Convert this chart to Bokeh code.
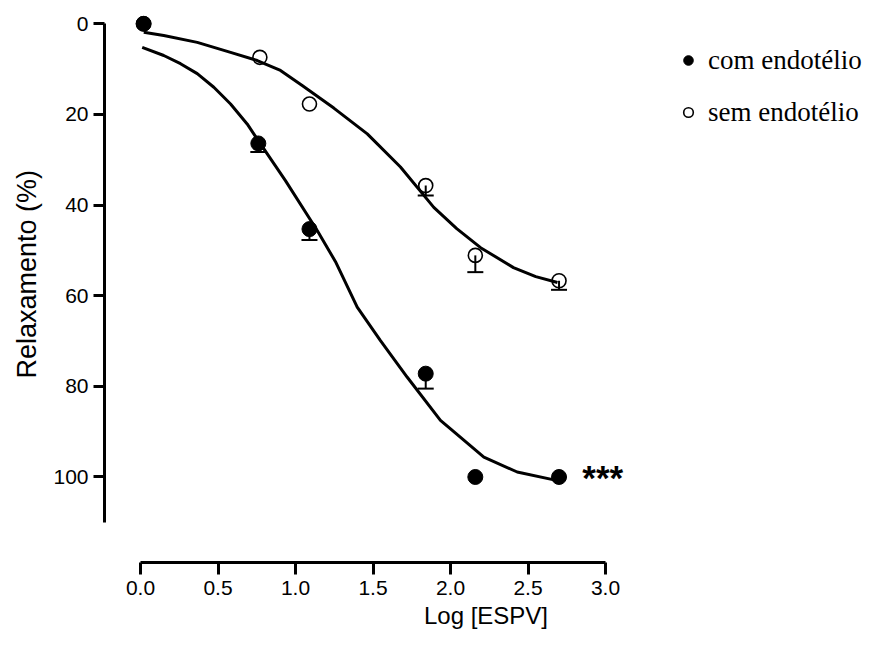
from bokeh.plotting import figure
from bokeh.models import (Range1d, FixedTicker, NumeralTickFormatter, Legend, LegendItem,
                          Whisker, TeeHead, ColumnDataSource, Title)
from bokeh.embed import file_html
from bokeh.resources import INLINE
from bokeh.core.properties import value

# ---- data (x as read against the drawn axis) ----
x_com = [0.02, 0.76, 1.09, 1.84, 2.16, 2.70]
y_com = [0.0, 26.4, 45.3, 77.2, 100.0, 100.0]
err_com = [0.0, 1.9, 2.4, 3.3, 0.0, 0.0]

x_sem = [0.02, 0.77, 1.09, 1.84, 2.16, 2.70]
y_sem = [0.0, 7.4, 17.7, 35.7, 51.1, 56.7]
err_sem = [0.0, 0.0, 0.0, 2.2, 3.7, 2.0]

# fitted curves, points
curve_com_x = [0.011, 0.150, 0.258, 0.366, 0.473, 0.581, 0.688, 0.774, 0.935, 1.140,
               1.258, 1.398, 1.548, 1.721, 1.935, 2.0, 2.215, 2.43, 2.69]
curve_com_y = [5.2, 7.0, 8.8, 11.0, 14.0, 17.7, 22.1, 26.5, 34.6, 45.6,
               52.5, 62.5, 69.9, 78.0, 87.5, 89.4, 95.6, 98.9, 100.8]

curve_sem_x = [0.021, 0.150, 0.366, 0.581, 0.753, 0.903, 1.043, 1.247, 1.463, 1.677,
               1.892, 2.04, 2.194, 2.406, 2.55, 2.69]
curve_sem_y = [1.85, 2.6, 4.1, 6.3, 8.1, 10.3, 13.6, 18.6, 24.3, 31.6,
               40.5, 45.2, 49.4, 53.8, 55.8, 57.1]

x_ticks = [0.0, 0.5, 1.0, 1.5, 2.0, 2.5, 3.0]
y_ticks = [0, 20, 40, 60, 80, 100]

series_labels = ["com endotélio", "sem endotélio"]
x_title = "Log [ESPV]"
y_title = "Relaxamento (%)"
sig_label = "***"
sig_x = [2.85]
sig_y = [100.0]

# ---- figure ----
p = figure(width=867, height=632, output_backend="svg", toolbar_location=None,
           x_range=Range1d(-0.2323, 4.690), y_range=Range1d(118.87, -4.70),
           min_border_left=104, min_border_right=0, min_border_top=2, min_border_bottom=70)
p.outline_line_color = None
p.xgrid.visible = False
p.ygrid.visible = False
p.background_fill_color = "white"
p.border_fill_color = "white"

for ax in (p.xaxis[0], p.yaxis[0]):
    ax.axis_line_width = 3
    ax.axis_line_color = "black"
    ax.major_tick_line_width = 3
    ax.major_tick_line_color = "black"
    ax.major_tick_in = 0
    ax.minor_tick_line_color = None
    ax.major_label_text_font = "Liberation Sans"
    ax.major_label_text_font_size = "21px"
    ax.major_label_text_color = "black"

p.xaxis.ticker = FixedTicker(ticks=x_ticks)
p.xaxis.formatter = NumeralTickFormatter(format="0.0")
p.xaxis.bounds = (0, 3)
p.xaxis.major_tick_out = 12
p.xaxis.major_label_standoff = 6
p.xaxis.axis_label = x_title
p.xaxis.axis_label_text_font = "Liberation Sans"
p.xaxis.axis_label_text_font_style = "normal"
p.xaxis.axis_label_text_font_size = "24px"
p.xaxis.axis_label_text_color = "black"
p.xaxis.axis_label_standoff = 4

p.yaxis.ticker = FixedTicker(ticks=y_ticks)
p.yaxis.bounds = (0, 110)
p.yaxis.major_tick_out = 11
p.yaxis.major_label_standoff = 5

# y title as a side title so it can be shifted along the axis
p.add_layout(Title(text=y_title, align="left", offset=184, standoff=17,
                   text_font="Liberation Sans", text_font_size="27px",
                   text_font_style="normal", text_color="black"), "left")

# curves
p.line(curve_com_x, curve_com_y, line_color="black", line_width=3, line_join="round")
p.line(curve_sem_x, curve_sem_y, line_color="black", line_width=3, line_join="round")

# error bars (downward only)
def whisk(xs, ys, es):
    xx = [x for x, e in zip(xs, es) if e > 0]
    lo = [y for y, e in zip(ys, es) if e > 0]
    up = [y + e for y, e in zip(ys, es) if e > 0]
    src = ColumnDataSource(dict(x=xx, lo=lo, up=up))
    w = Whisker(base="x", lower="lo", upper="up", source=src, dimension="height",
                line_color="black", line_width=2,
                upper_head=TeeHead(size=16, line_width=2, line_color="black"),
                lower_head=None)
    p.add_layout(w)

whisk(x_sem, y_sem, err_sem)
whisk(x_com, y_com, err_com)

r_sem = p.scatter(x_sem, y_sem, marker="circle", size=14, fill_alpha=0,
                  line_color="black", line_width=1.6)
r_com = p.scatter(x_com, y_com, marker="circle", size=15, fill_color="black",
                  line_color="black")

p.text(x=sig_x, y=sig_y, text=[sig_label], text_font=value("Liberation Sans"),
       text_font_size="35px", text_font_style="bold", text_color="black",
       text_baseline="alphabetic", text_align="left", y_offset=1)

legend = Legend(items=[LegendItem(label=series_labels[0], renderers=[r_com]),
                       LegendItem(label=series_labels[1], renderers=[r_sem])],
                location=(572, 430), orientation="vertical",
                glyph_width=24, glyph_height=24, label_height=40, spacing=12,
                label_standoff=8, padding=0, margin=0,
                label_text_font="Liberation Serif", label_text_font_size="27px",
                label_text_color="black",
                border_line_alpha=0, background_fill_alpha=0)
p.add_layout(legend)

open("out.html", "w").write(file_html(p, INLINE))
